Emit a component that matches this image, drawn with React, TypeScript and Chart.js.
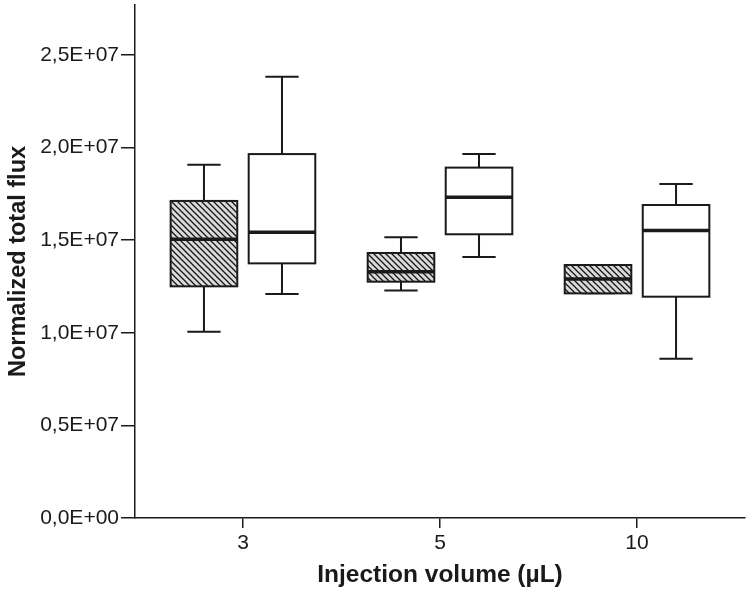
import React, { useEffect, useRef } from 'react';
import { Chart, registerables } from 'chart.js';

Chart.register(...registerables);

// Categories (injection volume, µL)
const categories = ['3', '5', '10'];

// Hatched series (box statistics)
const hatchedMin = [1.006e7, 1.229e7, 1.213e7];
const hatchedQ1 = [1.251e7, 1.276e7, 1.213e7];
const hatchedMedian = [1.505e7, 1.33e7, 1.29e7];
const hatchedQ3 = [1.712e7, 1.431e7, 1.366e7];
const hatchedMax = [1.908e7, 1.516e7, 1.366e7];

// White series (box statistics)
const whiteMin = [1.21e7, 1.409e7, 0.86e7];
const whiteQ1 = [1.375e7, 1.532e7, 1.195e7];
const whiteMedian = [1.543e7, 1.732e7, 1.553e7];
const whiteQ3 = [1.965e7, 1.892e7, 1.69e7];
const whiteMax = [2.383e7, 1.965e7, 1.803e7];

// Y axis ticks
const yTickValues = [0, 0.5e7, 1.0e7, 1.5e7, 2.0e7, 2.5e7];
const yTickLabels = ['0,0E+00', '0,5E+07', '1,0E+07', '1,5E+07', '2,0E+07', '2,5E+07'];

const FONT = "'Liberation Sans', Arial, sans-serif";
const INK = '#1a1a1a';

function makeHatch(): CanvasPattern | string {
  const c = document.createElement('canvas');
  const s = 6;
  c.width = s;
  c.height = s;
  const g = c.getContext('2d');
  if (!g) return '#d0d0d0';
  g.fillStyle = '#dadada';
  g.fillRect(0, 0, s, s);
  g.strokeStyle = '#141414';
  g.lineWidth = 1.25;
  g.beginPath();
  g.moveTo(-1, -1);
  g.lineTo(s + 1, s + 1);
  g.moveTo(-2, s - 2);
  g.lineTo(2, s + 2);
  g.moveTo(s - 2, -2);
  g.lineTo(s + 2, 2);
  g.stroke();
  const p = g.createPattern(c, 'repeat');
  return p || '#d0d0d0';
}

export default function App() {
  const ref = useRef<HTMLCanvasElement | null>(null);

  useEffect(() => {
    const canvas = ref.current;
    if (!canvas) return;
    const hatch = makeHatch();

    const series = [
      { offset: -0.198, fill: hatch, min: hatchedMin, q1: hatchedQ1, med: hatchedMedian, q3: hatchedQ3, max: hatchedMax },
      { offset: 0.198, fill: '#ffffff', min: whiteMin, q1: whiteQ1, med: whiteMedian, q3: whiteQ3, max: whiteMax },
    ];
    const boxWidthUnits = 0.338;

    const boxPlugin = {
      id: 'boxplots',
      afterDatasetsDraw(chart: any) {
        const { ctx, scales } = chart;
        const xs = scales.x;
        const ys = scales.y;
        ctx.save();
        ctx.strokeStyle = INK;
        ctx.lineCap = 'butt';
        series.forEach((s) => {
          categories.forEach((_, i) => {
            const cx = xs.getPixelForValue(i + s.offset);
            const half = xs.getPixelForValue(i + s.offset + boxWidthUnits / 2) - cx;
            const left = cx - half;
            const right = cx + half;
            const yMin = ys.getPixelForValue(s.min[i]);
            const yQ1 = ys.getPixelForValue(s.q1[i]);
            const yMed = ys.getPixelForValue(s.med[i]);
            const yQ3 = ys.getPixelForValue(s.q3[i]);
            const yMax = ys.getPixelForValue(s.max[i]);
            // whiskers
            ctx.lineWidth = 2;
            ctx.beginPath();
            ctx.moveTo(cx, yQ3);
            ctx.lineTo(cx, yMax);
            ctx.moveTo(cx, yQ1);
            ctx.lineTo(cx, yMin);
            ctx.moveTo(cx - half / 2, yMax);
            ctx.lineTo(cx + half / 2, yMax);
            ctx.moveTo(cx - half / 2, yMin);
            ctx.lineTo(cx + half / 2, yMin);
            ctx.stroke();
            // box
            ctx.fillStyle = s.fill as any;
            ctx.fillRect(left, yQ3, right - left, yQ1 - yQ3);
            ctx.lineWidth = 2;
            ctx.strokeRect(left, yQ3, right - left, yQ1 - yQ3);
            // median
            ctx.lineWidth = 3.5;
            ctx.beginPath();
            ctx.moveTo(left, yMed);
            ctx.lineTo(right, yMed);
            ctx.stroke();
          });
        });
        ctx.restore();
      },
    };

    const chart = new Chart(canvas, {
      type: 'scatter',
      data: { datasets: [] },
      options: {
        animation: false,
        responsive: false,
        maintainAspectRatio: false,
        layout: { padding: { top: 5, right: 5, left: 0, bottom: 0 } },
        plugins: { legend: { display: false }, tooltip: { enabled: false } },
        scales: {
          x: {
            type: 'linear',
            min: -0.548,
            max: 2.548,
            afterBuildTicks: (s: any) => {
              s.ticks = categories.map((_, i) => ({ value: i }));
            },
            afterFit: (s: any) => {
              s.height = 82;
              s.paddingLeft = 0;
              s.paddingRight = 0;
            },
            ticks: {
              callback: (v: any) => categories[Math.round(Number(v))] ?? '',
              font: { family: FONT, size: 21 },
              color: INK,
              padding: 3,
              maxRotation: 0,
              autoSkip: false,
            },
            grid: { drawOnChartArea: false, drawTicks: true, tickLength: 10, color: INK, lineWidth: 1.5 },
            border: { display: true, color: INK, width: 1.5 },
            title: {
              display: true,
              text: 'Injection volume (µL)',
              font: { family: FONT, size: 24.5, weight: 'bold' },
              color: INK,
              padding: { top: 0, bottom: 10 },
            },
          },
          y: {
            type: 'linear',
            min: 0,
            max: 2.77e7,
            afterBuildTicks: (s: any) => {
              s.ticks = yTickValues.map((v) => ({ value: v }));
            },
            afterFit: (s: any) => {
              s.width = 135;
              s.paddingTop = 0;
              s.paddingBottom = 0;
            },
            ticks: {
              callback: (_v: any, i: number) => yTickLabels[i],
              font: { family: FONT, size: 21 },
              color: INK,
              padding: 2,
              autoSkip: false,
            },
            grid: { drawOnChartArea: false, drawTicks: true, tickLength: 14, color: INK, lineWidth: 1.5 },
            border: { display: true, color: INK, width: 1.5 },
            title: {
              display: true,
              text: 'Normalized total flux',
              font: { family: FONT, size: 23.5, weight: 'bold' },
              color: INK,
              padding: { top: 4, bottom: 0 },
            },
          },
        },
      },
      plugins: [boxPlugin],
    } as any);

    return () => chart.destroy();
  }, []);

  return (
    <div style={{ position: 'absolute', left: 0, top: 0, width: 750, height: 600, background: '#fff' }}>
      <canvas ref={ref} width={750} height={600} />
    </div>
  );
}
